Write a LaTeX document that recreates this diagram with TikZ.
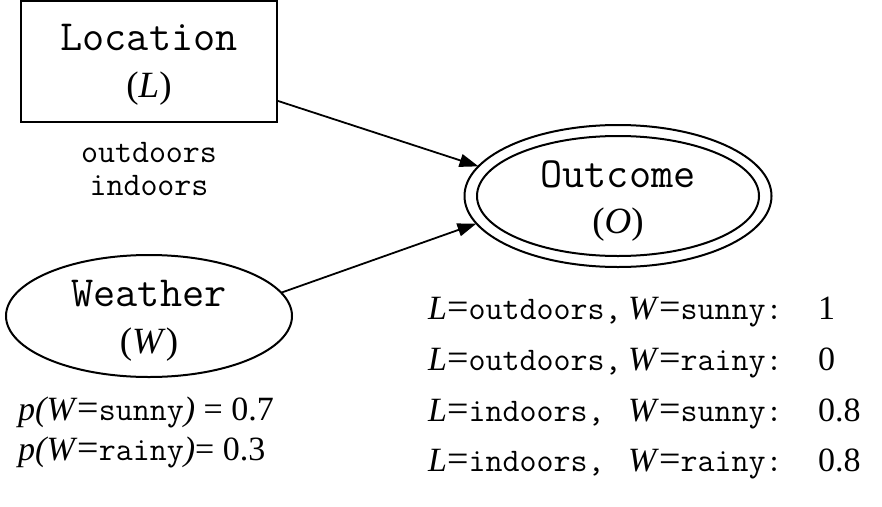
\documentclass[tikz,border=0pt]{standalone}
\usepackage{fontspec}
\setmainfont{Liberation Serif}
\usetikzlibrary{arrows.meta,shapes.geometric}
\newcommand\mytt[1]{{\ttfamily\fontsize{33}{38}\selectfont #1}}
\newcommand\myeq{{\fontsize{38}{38}\selectfont =}}
\newcommand\rowtxt[3]{\makebox[200pt][l]{\textit{L}\myeq\mytt{#1,}}\makebox[190pt][l]{\textit{W}\myeq\mytt{#2:}}#3}
\begin{document}
\begin{tikzpicture}[x=1pt,y=-1pt,
  shapeline/.style={draw=black,line width=2pt,outer sep=0pt,inner sep=0pt},
  nametxt/.style={align=center,inner sep=0pt,anchor=base},
  edge/.style={line width=1.8pt,-{Triangle[length=19pt,width=13pt]}},
  ann/.style={inner sep=0pt,font=\fontsize{34}{40}\selectfont}
]
\useasboundingbox (0,0) rectangle (882,506);
% shapes
\node[shapeline,rectangle,minimum width=256pt,minimum height=121pt] (L) at (149,61.5) {};
\node[shapeline,ellipse,minimum width=286pt,minimum height=122pt] (W) at (149,316) {};
\node[shapeline,ellipse,minimum width=307pt,minimum height=142pt] (O) at (618,196) {};
\node[shapeline,ellipse,minimum width=282pt,minimum height=120pt] (Oi) at (O.center) {};
% node names (anchor base = last line)
\node[nametxt,font=\fontsize{37}{47}\selectfont] (Lt) at (149,97)
  {{\ttfamily\fontsize{43}{47}\selectfont Location}\\(\textit{L})};
\node[nametxt,font=\fontsize{37}{47}\selectfont] (Wt) at (149,353)
  {{\ttfamily\fontsize{43}{47}\selectfont Weather}\\(\textit{W})};
\node[nametxt,font=\fontsize{37}{46}\selectfont] (Ot) at (618,233)
  {{\ttfamily\fontsize{43}{46}\selectfont Outcome}\\(\textit{O})};
% edges
\draw[edge] (L.-17.15) -- (O.168.9);
\draw[edge] (W.10.2) -- (O.191.9);
% annotations
\node[ann,anchor=base] (Lv1) at (149,162) {\mytt{outdoors}};
\node[ann,anchor=base] (Lv2) at (149,195) {\mytt{indoors}};
\node[ann,anchor=base west] (p1) at (18,420) {\textit{p(W}\myeq\mytt{sunny}\textit{)} = 0.7};
\node[ann,anchor=base west] (p2) at (18,460) {\textit{p(W}\myeq\mytt{rainy}\textit{)}= 0.3};
\node[ann,anchor=base west] (r1) at (428,319) {\rowtxt{outdoors}{sunny}{1}};
\node[ann,anchor=base west] (r2) at (428,370) {\rowtxt{outdoors}{rainy}{0}};
\node[ann,anchor=base west] (r3) at (428,421) {\rowtxt{indoors}{sunny}{0.8}};
\node[ann,anchor=base west] (r4) at (428,471) {\rowtxt{indoors}{rainy}{0.8}};
\end{tikzpicture}
\end{document}
